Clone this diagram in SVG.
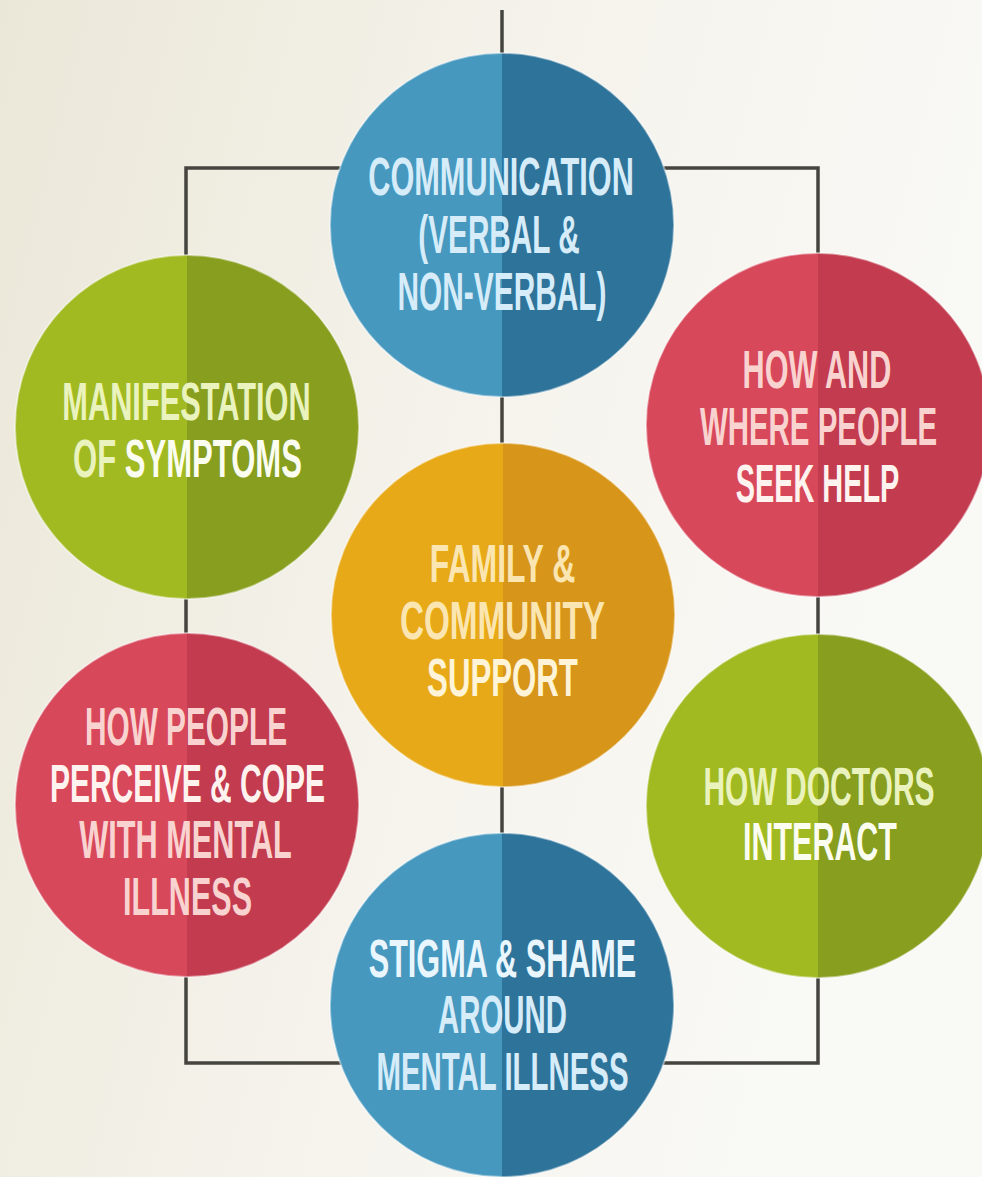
<svg xmlns="http://www.w3.org/2000/svg" width="982" height="1177" viewBox="0 0 982 1177">
<defs>
<linearGradient id="bg" x1="0" y1="0" x2="1" y2="0.3">
<stop offset="0" stop-color="#ebe7d8"/>
<stop offset="0.55" stop-color="#f5f3ec"/>
<stop offset="1" stop-color="#f9f9f6"/>
</linearGradient>
<style>
.ln{fill:none;stroke:#45443f;stroke-width:3.5}
.ring{fill:none;stroke:#ffffff;stroke-opacity:0.45;stroke-width:2}
.t{font-family:"Liberation Sans",Arial,sans-serif;font-weight:bold;font-size:54px;text-anchor:middle}
.bl{fill:#d6ecf9}
.bw{fill:#eaf6fd}
.gl{fill:#eaf3bd}
.gw{fill:#fbfdf0}
.rl{fill:#f9d3cf}
.rw{fill:#fff3f0}
.yl{fill:#fbe6b2}
.yw{fill:#fff4d8}
.blueL{fill:#4698bf}.blueR{fill:#2e7399}
.greenL{fill:#a2ba22}.greenR{fill:#879e1f}
.redL{fill:#d8485b}.redR{fill:#c23b4f}
.yelL{fill:#e7a917}.yelR{fill:#d7951a}
</style>
</defs>
<rect width="982" height="1177" fill="url(#bg)"/>
<g id="connectors">
<line class="ln" x1="502" y1="10" x2="502" y2="1177"/>
<rect class="ln" x="186" y="168" width="632" height="895"/>
</g>
<g id="communication">
<path class="blueL" d="M502,53 A172,172 0 0 0 502,397 Z"/>
<path class="blueR" d="M502,53 A172,172 0 0 1 502,397 Z"/>
<circle class="ring" cx="502" cy="225" r="172"/>
<text class="t bl" transform="translate(501,195) scale(0.569,1)">COMMUNICATION</text>
<text class="t bl" transform="translate(499,253) scale(0.551,1)">(VERBAL &amp;</text>
<text class="t bl" transform="translate(502,310) scale(0.553,1)">NON-VERBAL)</text>
</g>
<g id="manifestation">
<path class="greenL" d="M187,255 A172,172 0 0 0 187,599 Z"/>
<path class="greenR" d="M187,255 A172,172 0 0 1 187,599 Z"/>
<circle class="ring" cx="187" cy="427" r="172"/>
<text class="t gl" transform="translate(186.5,420) scale(0.570,1)">MANIFESTATION</text>
<text class="t" transform="translate(187.5,477) scale(0.575,1)"><tspan class="gl">OF </tspan><tspan class="gw">SYMPTOMS</tspan></text>
</g>
<g id="seek-help">
<path class="redL" d="M818,253 A172,172 0 0 0 818,597 Z"/>
<path class="redR" d="M818,253 A172,172 0 0 1 818,597 Z"/>
<circle class="ring" cx="818" cy="425" r="172"/>
<text class="t rl" transform="translate(817,388) scale(0.568,1)">HOW AND</text>
<text class="t rl" transform="translate(818.5,445) scale(0.545,1)">WHERE PEOPLE</text>
<text class="t rw" transform="translate(817.5,502) scale(0.535,1)">SEEK HELP</text>
</g>
<g id="family">
<path class="yelL" d="M503,443 A172,172 0 0 0 503,787 Z"/>
<path class="yelR" d="M503,443 A172,172 0 0 1 503,787 Z"/>
<circle class="ring" cx="503" cy="615" r="172"/>
<text class="t yl" transform="translate(502.5,582) scale(0.592,1)">FAMILY &amp;</text>
<text class="t yl" transform="translate(502.5,639) scale(0.616,1)">COMMUNITY</text>
<text class="t yw" transform="translate(502.5,696) scale(0.578,1)">SUPPORT</text>
</g>
<g id="perceive">
<path class="redL" d="M187,633 A172,172 0 0 0 187,977 Z"/>
<path class="redR" d="M187,633 A172,172 0 0 1 187,977 Z"/>
<circle class="ring" cx="187" cy="805" r="172"/>
<text class="t rl" transform="translate(186,745) scale(0.552,1)">HOW PEOPLE</text>
<text class="t rw" transform="translate(187.5,802) scale(0.556,1)">PERCEIVE &amp; COPE</text>
<text class="t rl" transform="translate(185.5,858) scale(0.569,1)">WITH MENTAL</text>
<text class="t rl" transform="translate(187.5,915) scale(0.566,1)">ILLNESS</text>
</g>
<g id="doctors">
<path class="greenL" d="M818,634 A172,172 0 0 0 818,978 Z"/>
<path class="greenR" d="M818,634 A172,172 0 0 1 818,978 Z"/>
<circle class="ring" cx="818" cy="806" r="172"/>
<text class="t gl" transform="translate(819,805) scale(0.556,1)">HOW DOCTORS</text>
<text class="t gw" transform="translate(820,860) scale(0.564,1)">INTERACT</text>
</g>
<g id="stigma">
<path class="blueL" d="M502,833 A172,172 0 0 0 502,1177 Z"/>
<path class="blueR" d="M502,833 A172,172 0 0 1 502,1177 Z"/>
<circle class="ring" cx="502" cy="1005" r="172"/>
<text class="t bw" transform="translate(502.5,977) scale(0.567,1)">STIGMA &amp; SHAME</text>
<text class="t bl" transform="translate(502.5,1033) scale(0.544,1)">AROUND</text>
<text class="t bl" transform="translate(502.5,1090) scale(0.545,1)">MENTAL ILLNESS</text>
</g>
</svg>
